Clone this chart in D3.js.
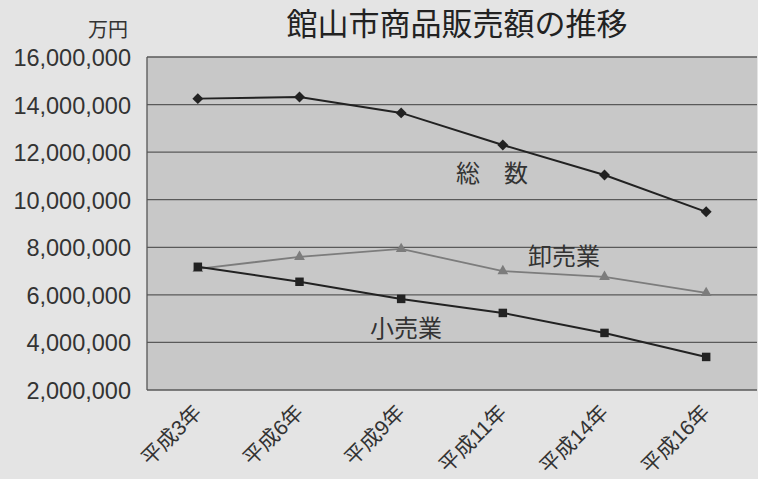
<!DOCTYPE html>
<html><head><meta charset="utf-8">
<script src="https://cdn.jsdelivr.net/npm/d3@7"></script>
<style>body{margin:0;background:#e4e4e4}svg{display:block}</style>
</head><body>
<svg id="c" width="758" height="479"></svg>
<script>
const categories = ["平成3年","平成6年","平成9年","平成11年","平成14年","平成16年"];
const total = [14250000,14320000,13650000,12300000,11040000,9490000];
const wholesale = [7090000,7600000,7930000,7000000,6760000,6080000];
const retail = [7180000,6550000,5830000,5240000,4400000,3390000];
const yTicks = [2000000,4000000,6000000,8000000,10000000,12000000,14000000,16000000];
const title = "館山市商品販売額の推移";
const unit = "万円";

const svg = d3.select("#c");
const W=758,H=479, L=147, R=757, T=57, B=390;
svg.append("rect").attr("width",W).attr("height",H).attr("fill","#e4e4e4");
const x = d3.scaleBand().domain(categories).range([L,R]);
const y = d3.scaleLinear().domain([2000000,16000000]).range([B,T]);
const font = "'Liberation Sans', Arial, 'Noto Sans CJK JP', sans-serif";

svg.append("rect").attr("x",L).attr("y",T).attr("width",R-L).attr("height",B-T).attr("fill","#c8c8c8");
svg.append("g").selectAll("line").data(yTicks).join("line")
  .attr("x1",L).attr("x2",R).attr("y1",d=>y(d)).attr("y2",d=>y(d))
  .attr("stroke","#5a5a5a").attr("stroke-width",1.3);
svg.append("line").attr("x1",L).attr("x2",L).attr("y1",T).attr("y2",B).attr("stroke","#555").attr("stroke-width",1.3);

const ya = svg.append("g").attr("transform",`translate(${L},0)`)
  .call(d3.axisLeft(y).tickValues(yTicks).tickFormat(d3.format(",")).tickSize(0).tickPadding(16));
ya.select(".domain").remove();
ya.selectAll("text").attr("font-family",font).attr("font-size",23.5).attr("fill","#333").attr("dy","0.36em");

const xa = svg.append("g").attr("transform",`translate(0,${B})`)
  .call(d3.axisBottom(x).tickSize(0).tickPadding(0));
xa.select(".domain").remove();
xa.selectAll("text").attr("font-family",font).attr("font-size",21).attr("fill","#333")
  .attr("text-anchor","end").attr("dy",0)
  .attr("transform","translate(5,24) rotate(-45)");

const line = d3.line().x((d,i)=>x(categories[i])+x.bandwidth()/2).y(d=>y(d));
function series(vals,color,width,sym,size,rot){
  svg.append("path").datum(vals).attr("d",line).attr("fill","none").attr("stroke",color).attr("stroke-width",width);
  svg.append("g").selectAll("path").data(vals).join("path")
    .attr("d",d3.symbol().type(sym).size(size))
    .attr("transform",(d,i)=>`translate(${x(categories[i])+x.bandwidth()/2},${y(d)}) rotate(${rot})`)
    .attr("fill",color);
}
series(wholesale,"#7c7c7c",1.8,d3.symbolTriangle,50,0);
series(retail,"#222",2,d3.symbolSquare,72,0);
series(total,"#222",2,d3.symbolSquare,60,45);

svg.append("text").attr("x",457).attr("y",35).attr("text-anchor","middle")
  .attr("font-family",font).attr("font-size",31).attr("fill","#222").text(title);
svg.append("text").attr("x",128).attr("y",37).attr("text-anchor","end")
  .attr("font-family",font).attr("font-size",20).attr("fill","#333").text(unit);

const ann = [["総　数",492,182],["卸売業",564,265],["小売業",406,337]];
svg.append("g").selectAll("text").data(ann).join("text")
  .attr("x",d=>d[1]).attr("y",d=>d[2]).attr("text-anchor","middle")
  .attr("font-family",font).attr("font-size",24).attr("fill","#333").text(d=>d[0]);
</script>
</body></html>
